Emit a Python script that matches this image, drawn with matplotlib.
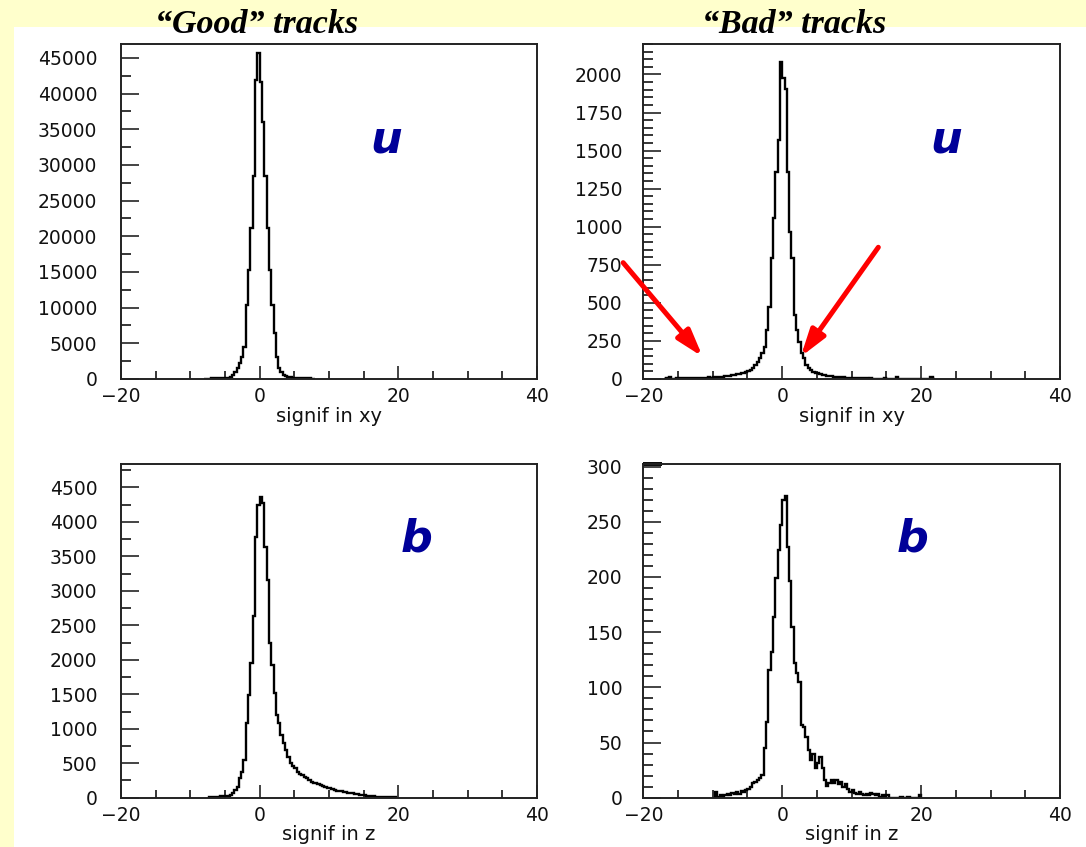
import numpy as np
import matplotlib
matplotlib.use("Agg")
import matplotlib.pyplot as plt
from matplotlib.patches import Rectangle
from matplotlib.ticker import MultipleLocator

# ---------------- data ----------------
X_RANGE = (-20, 40)
BIN_W = 60 / 180  # histogram bin width

column_titles = ["\u201cGood\u201d tracks", "\u201cBad\u201d tracks"]
panel_letters = ["u", "u", "b", "b"]
x_labels = ["signif in xy", "signif in xy", "signif in z", "signif in z"]

# Good tracks, significance in xy (first bin starts at -8.0)
good_xy_start = -8.0
good_xy_counts = [40, 60, 70, 80, 90, 100, 110, 120, 140, 170, 200, 330, 560, 1000,
                  1500, 2200, 3100, 4500, 10400, 15300, 21100, 28400, 41900, 45750,
                  41700, 36000, 28400, 21100, 15300, 10400, 6400, 3100, 1500, 1000,
                  560, 400, 300, 230, 190, 160, 140, 120, 110, 100, 90, 80, 60, 40]

# Bad tracks, significance in xy (first bin starts at -17.0)
bad_xy_start = -17.0
bad_xy_counts = [2, 4, 14, 3, 2, 4, 3, 5, 4, 6, 5, 8, 6, 7, 6, 8, 7, 9, 8, 10, 9, 11,
                 12, 13, 14, 16, 18,
                 20, 22, 26, 28, 30, 35, 38, 42, 48, 55, 62, 75, 92, 114, 136, 168,
                 212, 322, 475, 792, 1055, 1361, 1569, 2083,
                 1974, 1902, 1361, 967, 792, 420, 322, 245, 168, 136, 92, 70, 59, 48,
                 40, 37, 32, 28, 25, 22, 20, 18, 16, 15, 13, 12, 10, 9, 8, 7, 7, 6,
                 5, 5, 4, 5, 4, 3, 4, 3, 3, 2, 3, 2, 9, 2, 2, 1, 3, 10, 1, 0, 1, 0,
                 1, 0, 1, 0, 0, 0, 1, 0, 0, 1, 12, 0]

# Good tracks, significance in z (first bin starts at -7.333)
good_z_start = -22 / 3
good_z_counts = [5, 8, 10, 12, 15, 18, 20, 25, 30, 39, 70, 111, 160, 280, 377, 546,
                 1078, 1489, 1948, 2640, 3785, 4244, 4364,
                 4268, 3640, 3156, 2238, 1924, 1513, 1199, 1078, 909, 788, 691, 594,
                 498, 460, 425, 377, 350, 329, 300, 280, 260, 232, 220, 208, 195,
                 184, 170, 150, 140, 135, 125, 115, 101, 95, 92, 87, 80, 72, 68, 63,
                 55, 50, 44, 39, 33, 30, 26, 22, 20, 17, 14, 12, 10, 8, 7, 5, 4, 3]

# Bad tracks, significance in z (first bin starts at -9.667)
bad_z_start = -29 / 3
bad_z_counts = [5, 1, 2, 0, 2, 3, 2, 4, 3, 5, 3, 6, 5, 7, 8, 10, 13, 14, 16, 18, 21,
                45, 69, 116, 132, 164, 199, 224, 247,
                270, 273, 227, 196, 155, 122, 113, 105, 66, 64, 55, 43, 34, 40, 27,
                31, 37, 27, 16, 11, 13, 16, 13, 16, 12, 14, 10, 12, 8, 5, 7, 4, 3,
                5, 3, 2, 3, 2, 4, 3, 2, 3, 1, 2, 1, 2, 0, 0, 0, 0, 0, 1, 0, 0, 1,
                0, 0, 0, 0, 2]

panel_starts = [good_xy_start, bad_xy_start, good_z_start, bad_z_start]
panel_counts = [good_xy_counts, bad_xy_counts, good_z_counts, bad_z_counts]

y_max = [46960, 2200, 4840, 302]
y_major = [5000, 250, 500, 50]
y_minor = [2500, 50, 250, 10]

# red arrows in the "bad xy" panel: (tail, head) in data coordinates
arrows_bad_xy = [((-22.9, 764), (-11.45, 146)), ((13.84, 865), (2.66, 146))]

# ---------------- figure ----------------
W, H = 1086, 847
fig = plt.figure(figsize=(W / 100, H / 100), dpi=100)
fig.patch.set_facecolor("#FFFFCC")
fig.add_artist(Rectangle((14 / W, 0), 1 - 14 / W, 1 - 27 / H, transform=fig.transFigure,
                         facecolor="white", edgecolor="none", zorder=0))

# axes boxes in pixels: (left, top, right, bottom)
boxes = [(121, 44, 537, 379), (643.3, 44, 1060, 379),
         (121, 464, 537, 797.7), (643.3, 464.3, 1060, 797.7)]
letter_pos = [(386, 152.7), (946, 152.7), (417, 551.7), (913, 551.7)]
ypads = [17, 15, 17, 15]

axes = []
for i, (l, t, r, b) in enumerate(boxes):
    ax = fig.add_axes([l / W, 1 - b / H, (r - l) / W, (b - t) / H])
    ax.set_facecolor("white")
    axes.append(ax)
    counts = np.array(panel_counts[i], dtype=float)
    edges = panel_starts[i] + np.arange(len(counts) + 1) * BIN_W
    ax.stairs(counts, edges, color="black", lw=1.7, baseline=0)
    ax.set_xlim(*X_RANGE)
    ax.set_ylim(0, y_max[i])
    ax.xaxis.set_major_locator(MultipleLocator(20))
    ax.xaxis.set_minor_locator(MultipleLocator(5))
    ax.yaxis.set_major_locator(MultipleLocator(y_major[i]))
    ax.yaxis.set_minor_locator(MultipleLocator(y_minor[i]))
    ax.yaxis.set_major_formatter(matplotlib.ticker.FuncFormatter(lambda v, p: f"{int(round(v))}"))
    ax.tick_params(axis="y", which="major", direction="in", length=13, width=1.1,
                   pad=ypads[i], labelsize=13.5, colors="#111111")
    ax.tick_params(axis="y", which="minor", direction="in", length=7, width=1.1)
    ax.tick_params(axis="x", which="major", direction="in", length=9.5, width=1.1,
                   pad=6, labelsize=13.5, colors="#111111")
    ax.tick_params(axis="x", which="minor", direction="in", length=5.5, width=1.1)
    for s in ax.spines.values():
        s.set_linewidth(1.4)
        s.set_color("#222222")
    ax.set_xlabel(x_labels[i], fontsize=14, color="#111111")
    ax.xaxis.set_label_coords(0.5, -0.083)
    ax.xaxis.label.set_va("top")
    lx, ly = letter_pos[i]
    fig.text(lx / W, 1 - ly / H, panel_letters[i], ha="center", va="baseline",
             fontsize=32, fontweight="bold", fontstyle="italic", color="#000099",
             family="DejaVu Sans")

# small thick artifact on the top frame of the last panel
axes[3].plot([0, 0.045], [1, 1], transform=axes[3].transAxes, color="black",
             lw=2.8, clip_on=False, solid_capstyle="butt")

# column titles
for x_c, title in zip([256.5, 794.5], column_titles):
    fig.text(x_c / W, 1 - 33 / H, title, ha="center", va="baseline", fontsize=24.5,
             fontweight="bold", fontstyle="italic", family="Liberation Serif")

# red arrows
for tail, head in arrows_bad_xy:
    axes[1].annotate("", xy=head, xytext=tail, xycoords="data", textcoords="data",
                     annotation_clip=False,
                     arrowprops=dict(arrowstyle="-|>,head_length=0.8,head_width=0.25",
                                     color="#FF0000", lw=3.6, mutation_scale=20,
                                     shrinkA=0, shrinkB=0))

fig.savefig("out.png", dpi=100, facecolor=fig.get_facecolor())
